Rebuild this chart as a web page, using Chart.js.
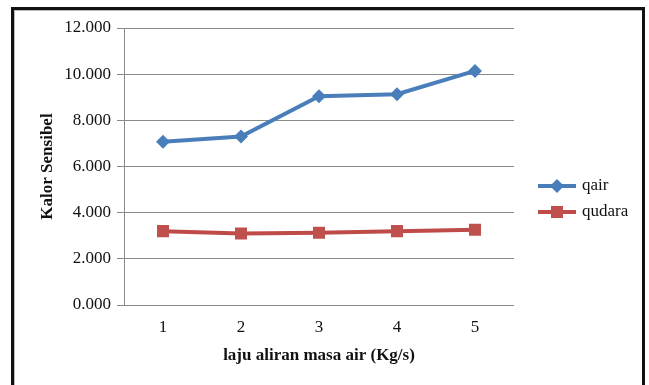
<!DOCTYPE html>
<html>
<head>
<meta charset="utf-8">
<script src="https://cdn.jsdelivr.net/npm/chart.js@4/dist/chart.umd.min.js"></script>
<style>
  html, body { margin: 0; padding: 0; background: #fff; }
  #wrap { position: relative; width: 649px; height: 385px; overflow: hidden; }
  #frame {
    position: absolute; left: 11px; top: 7px; width: 628px; height: 400px;
    border: 3px solid #111; box-shadow: inset 1px 1px 0 #bbb;
  }
  canvas { position: absolute; left: 0; top: 0; }
</style>
</head>
<body>
<div id="wrap">
  <div id="frame"></div>
  <canvas id="c" width="649" height="385"></canvas>
</div>
<script>
// Laju aliran massa air (kategori sumbu X)
const categories = ['1', '2', '3', '4', '5'];
// Kalor sensibel air
const qair = [7.07, 7.30, 9.04, 9.13, 10.14];
// Kalor sensibel udara
const qudara = [3.20, 3.10, 3.13, 3.20, 3.26];
// Nilai garis bantu sumbu Y
const yTicks = [0, 2, 4, 6, 8, 10, 12];

const SERIF = '"Liberation Serif", "Times New Roman", serif';
const BLUE = '#4A7EBB';
const RED = '#BE4B48';

// Legend on the right: a short line with the series marker in its middle
const sideLegend = {
  id: 'sideLegend',
  afterDraw(chart) {
    const ctx = chart.ctx;
    const x0 = 538, x1 = 576, tx = 582;
    const rows = [186, 212];
    ctx.save();
    chart.data.datasets.forEach((ds, i) => {
      const y = rows[i];
      ctx.strokeStyle = ds.borderColor;
      ctx.lineWidth = 4;
      ctx.beginPath();
      ctx.moveTo(x0, y);
      ctx.lineTo(x1, y);
      ctx.stroke();
      const cx = (x0 + x1) / 2;
      ctx.fillStyle = ds.pointBackgroundColor;
      ctx.beginPath();
      if (ds.pointStyle === 'rectRot') {
        const r = 7;
        ctx.moveTo(cx, y - r); ctx.lineTo(cx + r, y); ctx.lineTo(cx, y + r); ctx.lineTo(cx - r, y);
        ctx.closePath();
      } else {
        const s = 6;
        ctx.rect(cx - s, y - s, 2 * s, 2 * s);
      }
      ctx.fill();
      ctx.fillStyle = '#111';
      ctx.font = '17px ' + SERIF;
      ctx.textBaseline = 'middle';
      ctx.textAlign = 'left';
      ctx.fillText(ds.label, tx, y);
    });
    ctx.restore();
  }
};

new Chart(document.getElementById('c'), {
  type: 'line',
  data: {
    labels: categories,
    datasets: [
      {
        label: 'qair', data: qair,
        borderColor: BLUE, backgroundColor: BLUE,
        pointBackgroundColor: BLUE, pointBorderColor: BLUE,
        borderWidth: 4, pointStyle: 'rectRot', pointRadius: 7, pointBorderWidth: 0,
        tension: 0
      },
      {
        label: 'qudara', data: qudara,
        borderColor: RED, backgroundColor: '#C0504D',
        pointBackgroundColor: '#C0504D', pointBorderColor: '#C0504D',
        borderWidth: 4, pointStyle: 'rect', pointRadius: 8.5, pointBorderWidth: 0,
        tension: 0
      }
    ]
  },
  options: {
    responsive: false,
    animation: false,
    devicePixelRatio: 1,
    layout: { padding: { left: 14, top: 28, right: 135, bottom: 0 } },
    plugins: {
      legend: { display: false },
      tooltip: { enabled: false }
    },
    scales: {
      x: {
        offset: true,
        afterFit(scale) { scale.height = 80; },
        grid: { display: false, drawTicks: false },
        border: { display: false },
        ticks: { color: '#111', font: { family: SERIF, size: 17 }, padding: 12 },
        title: {
          display: true, text: 'laju aliran masa air (Kg/s)', color: '#111',
          font: { family: SERIF, size: 17, weight: 'bold' },
          padding: { top: 0, bottom: 19 }
        }
      },
      y: {
        min: 0, max: 12,
        afterFit(scale) { scale.width = 110; },
        afterBuildTicks(scale) { scale.ticks = yTicks.map(v => ({ value: v })); },
        grid: { color: '#8a8a8a', lineWidth: 1, drawTicks: true, tickLength: 7 },
        border: { display: true, color: '#8a8a8a', width: 1 },
        ticks: {
          color: '#111', font: { family: SERIF, size: 17 }, padding: 6,
          callback: v => v.toFixed(3)
        },
        title: {
          display: true, text: 'Kalor Sensibel', color: '#111',
          font: { family: SERIF, size: 17, weight: 'bold' },
          padding: { top: 23, bottom: 0 }
        }
      }
    }
  },
  plugins: [sideLegend]
});
</script>
</body>
</html>
